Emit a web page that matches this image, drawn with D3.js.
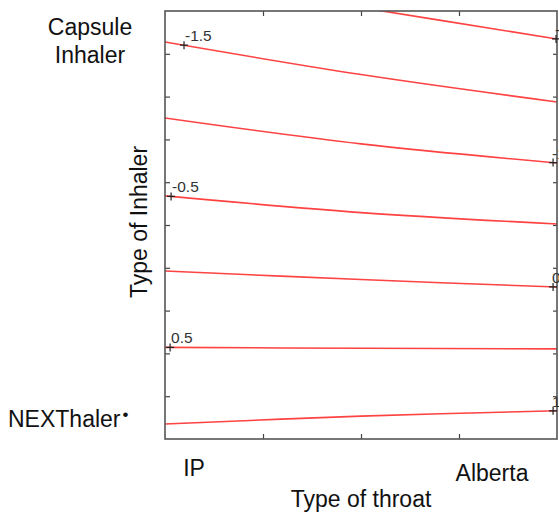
<!DOCTYPE html>
<html>
<head>
<meta charset="utf-8">
<script src="https://cdn.jsdelivr.net/npm/d3@7"></script>
<style>
  html, body { margin: 0; padding: 0; background: #fff; }
  svg { display: block; }
  text { font-family: "Liberation Sans", Arial, Helvetica, sans-serif; }
</style>
</head>
<body>
<svg id="chart" width="559" height="518"></svg>
<script>
// ---- data (coded factor levels: -1 .. 1) ----
const throatLevels = [-1, 0, 1];                 // IP ... Alberta
const contourLevels = [-2, -1.5, -1, -0.5, 0, 0.5, 1];
const contourLabels = ["-2", "-1.5", "-1", "-0.5", "0", "0.5", "1"];
const yAtIP      = [1.163, 0.855, 0.500, 0.136, -0.215, -0.572, -0.930];
const yAtMid     = [1.016, 0.703, 0.379, 0.058, -0.255, -0.576, -0.893];
const yAtAlberta = [0.869, 0.575, 0.290, 0.005, -0.290, -0.579, -0.868];
const labelAtX   = [0.995, -0.903, 0.980, -0.969, 0.980, -0.974, 0.980];
const xTickValues = [-0.5, 0, 0.5];
const yTickValues = [-0.8, -0.6, -0.4, -0.2, 0, 0.2, 0.4, 0.6, 0.8];
const throatNames = ["IP", "Alberta"];
const inhalerNames = [["Capsule", "Inhaler"], ["NEXThaler"]];

(function () {
const svg = d3.select("#chart");
const pL = 165, pR = 557, pT = 11, pB = 439;

const x = d3.scaleLinear().domain([-1, 1]).range([pL, pR]);
const y = d3.scaleLinear().domain([-1, 1]).range([pB, pT]);

// clip
svg.append("defs").append("clipPath").attr("id", "plotClip")
  .append("rect").attr("x", pL).attr("y", pT)
  .attr("width", pR - pL).attr("height", pB - pT);

// ticks
const axB = d3.axisBottom(x).tickValues(xTickValues).tickSize(-5).tickFormat("");
const axT = d3.axisTop(x).tickValues(xTickValues).tickSize(-5).tickFormat("");
const axL = d3.axisLeft(y).tickValues(yTickValues).tickSize(-5).tickFormat("");
const axR = d3.axisRight(y).tickValues(yTickValues).tickSize(-4).tickFormat("");
[[axB, `translate(0,${pB})`], [axT, `translate(0,${pT})`],
 [axL, `translate(${pL},0)`], [axR, `translate(${pR},0)`]].forEach(([ax, tr]) => {
  const g = svg.append("g").attr("transform", tr).call(ax);
  g.select(".domain").remove();
  g.selectAll(".tick line").attr("stroke", "#444").attr("stroke-width", 1.2);
});

// contour lines
const lineGen = d3.line()
  .x(d => x(d[0])).y(d => y(d[1]))
  .curve(d3.curveCatmullRom);

const contours = contourLevels.map((lv, i) => ({
  level: lv,
  label: contourLabels[i],
  pts: throatLevels.map((t, j) => [t, [yAtIP[i], yAtMid[i], yAtAlberta[i]][j]]),
  lx: labelAtX[i]
}));

svg.append("g").attr("clip-path", "url(#plotClip)")
  .selectAll("path").data(contours).join("path")
  .attr("d", d => lineGen(d.pts))
  .attr("fill", "none")
  .attr("stroke", "#ff4242")
  .attr("stroke-width", 1.6);

// frame
svg.append("rect")
  .attr("x", pL).attr("y", pT)
  .attr("width", pR - pL).attr("height", pB - pT)
  .attr("fill", "none").attr("stroke", "#555").attr("stroke-width", 1.6);

// contour labels with + markers
function interpY(d, xv) {
  const p = d.pts;
  const seg = xv <= 0 ? [p[0], p[1]] : [p[1], p[2]];
  const t = (xv - seg[0][0]) / (seg[1][0] - seg[0][0]);
  return seg[0][1] + t * (seg[1][1] - seg[0][1]);
}
const lab = svg.append("g");
contours.forEach(d => {
  const px = x(d.lx), py = y(interpY(d, d.lx));
  lab.append("path")
    .attr("d", `M${px - 4},${py}H${px + 4}M${px},${py - 4}V${py + 4}`)
    .attr("stroke", "#222").attr("stroke-width", 1.2);
  lab.append("text")
    .attr("x", px + (d.lx < 0 ? 1 : -1)).attr("y", py - 4)
    .attr("font-size", 15.5).attr("fill", "#333")
    .text(d.label);
});

// category labels
const fs = 23;
svg.append("text").attr("x", 194).attr("y", 476)
  .attr("text-anchor", "middle").attr("font-size", fs).attr("fill", "#111")
  .text(throatNames[0]);
svg.append("text").attr("x", 492).attr("y", 481)
  .attr("text-anchor", "middle").attr("font-size", fs).attr("fill", "#111")
  .text(throatNames[1]);

const capT = svg.append("text").attr("text-anchor", "middle")
  .attr("font-size", fs).attr("fill", "#111");
inhalerNames[0].forEach((s, i) => {
  capT.append("tspan").attr("x", 90).attr("y", 35 + i * 28).text(s);
});
const nexT = svg.append("text").attr("x", 8).attr("y", 427)
  .attr("font-size", fs).attr("fill", "#111");
nexT.append("tspan").text(inhalerNames[1][0]);
nexT.append("tspan").attr("font-size", 17).attr("dx", 2).attr("dy", -7).text("•");

// axis titles
svg.append("text").attr("x", x(0)).attr("y", 507)
  .attr("text-anchor", "middle").attr("font-size", fs).attr("fill", "#111")
  .text("Type of throat");
svg.append("text")
  .attr("transform", `translate(147,${222}) rotate(-90)`)
  .attr("text-anchor", "middle").attr("font-size", fs).attr("fill", "#111")
  .text("Type of Inhaler");
})();
</script>
</body>
</html>
